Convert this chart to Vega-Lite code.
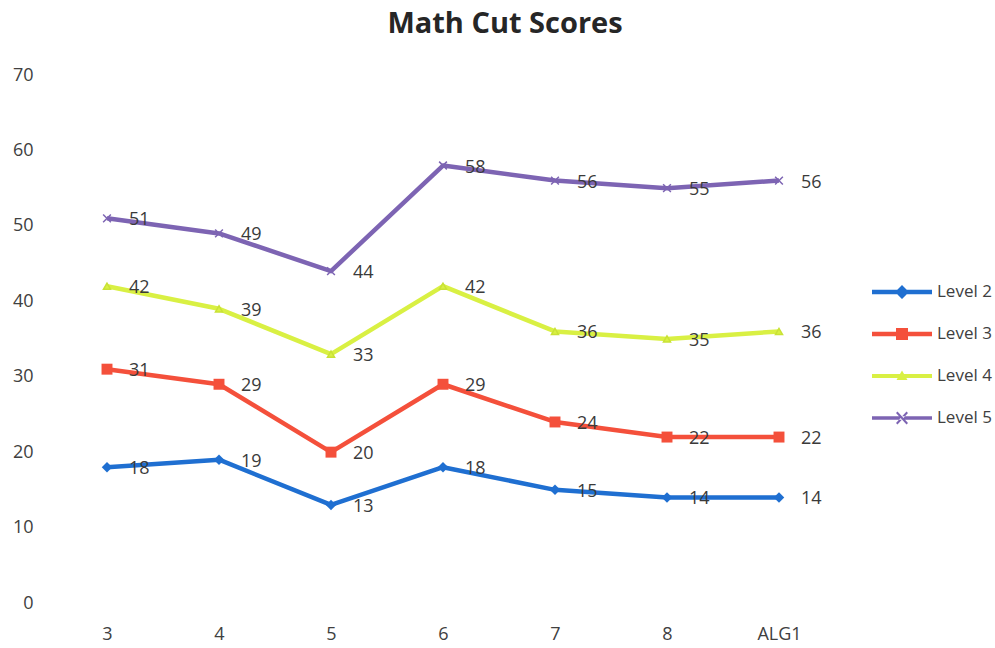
{
  "$schema": "https://vega.github.io/schema/vega-lite/v6.json",
  "width": 784,
  "height": 528,
  "autosize": "none",
  "padding": {"left": 51, "top": 75, "right": 160, "bottom": 45},
  "background": "#ffffff",
  "title": {
    "text": "Math Cut Scores",
    "font": "Open Sans",
    "fontSize": 29,
    "fontWeight": "bold",
    "color": "#262626",
    "anchor": "middle",
    "dx": 62,
    "offset": 27
  },
  "config": {
    "view": {"stroke": null},
    "font": "Open Sans",
    "axis": {
      "labelFont": "Open Sans",
      "labelFontSize": 18,
      "labelColor": "#404040",
      "domain": false,
      "ticks": false,
      "grid": false,
      "title": null
    },
    "legend": {
      "title": null,
      "orient": "none",
      "legendX": 841,
      "legendY": 207,
      "padding": 0,
      "symbolSize": 400,
      "symbolStrokeWidth": 0,
      "symbolOpacity": 1,
      "rowPadding": 24,
      "labelOffset": 25,
      "labelFont": "Open Sans",
      "labelFontSize": 17,
      "labelColor": "#404040"
    }
  },
  "data": {
    "values": [
      {"grade": "3", "series": "Level 2", "score": 18},
      {"grade": "4", "series": "Level 2", "score": 19},
      {"grade": "5", "series": "Level 2", "score": 13},
      {"grade": "6", "series": "Level 2", "score": 18},
      {"grade": "7", "series": "Level 2", "score": 15},
      {"grade": "8", "series": "Level 2", "score": 14},
      {"grade": "ALG1", "series": "Level 2", "score": 14},
      {"grade": "3", "series": "Level 3", "score": 31},
      {"grade": "4", "series": "Level 3", "score": 29},
      {"grade": "5", "series": "Level 3", "score": 20},
      {"grade": "6", "series": "Level 3", "score": 29},
      {"grade": "7", "series": "Level 3", "score": 24},
      {"grade": "8", "series": "Level 3", "score": 22},
      {"grade": "ALG1", "series": "Level 3", "score": 22},
      {"grade": "3", "series": "Level 4", "score": 42},
      {"grade": "4", "series": "Level 4", "score": 39},
      {"grade": "5", "series": "Level 4", "score": 33},
      {"grade": "6", "series": "Level 4", "score": 42},
      {"grade": "7", "series": "Level 4", "score": 36},
      {"grade": "8", "series": "Level 4", "score": 35},
      {"grade": "ALG1", "series": "Level 4", "score": 36},
      {"grade": "3", "series": "Level 5", "score": 51},
      {"grade": "4", "series": "Level 5", "score": 49},
      {"grade": "5", "series": "Level 5", "score": 44},
      {"grade": "6", "series": "Level 5", "score": 58},
      {"grade": "7", "series": "Level 5", "score": 56},
      {"grade": "8", "series": "Level 5", "score": 55},
      {"grade": "ALG1", "series": "Level 5", "score": 56}
    ]
  },
  "encoding": {
    "x": {
      "field": "grade",
      "type": "ordinal",
      "sort": ["3", "4", "5", "6", "7", "8", "ALG1"],
      "scale": {"type": "point", "padding": 0.5},
      "axis": {"labelAngle": 0, "labelPadding": 22}
    },
    "y": {
      "field": "score",
      "type": "quantitative",
      "scale": {"domain": [0, 70], "nice": false},
      "axis": {"values": [0, 10, 20, 30, 40, 50, 60, 70], "labelPadding": 18}
    }
  },
  "layer": [
    {
      "mark": {"type": "point", "filled": true, "opacity": 0},
      "encoding": {
        "shape": {
          "field": "series",
          "type": "nominal",
          "scale": {
            "domain": ["Level 2", "Level 3", "Level 4", "Level 5"],
            "range": [
              "M-3,-0.22H3V0.22H-3Z M0,-0.7L0.7,0L0,0.7L-0.7,0Z",
              "M-3,-0.22H3V0.22H-3Z M-0.6,-0.6H0.6V0.6H-0.6Z",
              "M-3,-0.2H3V0.2H-3Z M0,-0.55L0.55,0.4H-0.55Z",
              "M-3,-0.17H3V0.17H-3Z M-0.6,-0.5L-0.45,-0.65L0.6,0.5L0.45,0.65Z M-0.6,0.5L-0.45,0.65L0.6,-0.5L0.45,-0.65Z"
            ]
          },
          "legend": {}
        },
        "color": {
          "field": "series",
          "type": "nominal",
          "scale": {
            "domain": ["Level 2", "Level 3", "Level 4", "Level 5"],
            "range": ["#1f6fd1", "#f4503b", "#d9f043", "#7d64b3"]
          },
          "legend": {}
        }
      }
    },
    {
      "mark": {"type": "line", "strokeWidth": 4.5, "strokeJoin": "round"},
      "encoding": {
        "color": {"field": "series", "type": "nominal", "legend": {}}
      }
    },
    {
      "transform": [{"filter": {"field": "series", "equal": "Level 2"}}],
      "mark": {"type": "point", "shape": "diamond", "size": 110, "filled": true, "opacity": 1, "color": "#1f6fd1"},
      "encoding": {}
    },
    {
      "transform": [{"filter": {"field": "series", "equal": "Level 3"}}],
      "mark": {"type": "point", "shape": "square", "size": 120, "filled": true, "opacity": 1, "color": "#f4503b"},
      "encoding": {}
    },
    {
      "transform": [{"filter": {"field": "series", "equal": "Level 4"}}],
      "mark": {"type": "point", "shape": "triangle-up", "size": 50, "filled": true, "opacity": 1, "fill": "#d9f043", "stroke": "#c9e236", "strokeWidth": 1.5},
      "encoding": {}
    },
    {
      "transform": [{"filter": {"field": "series", "equal": "Level 5"}}],
      "mark": {"type": "point", "shape": "M-1,-1L1,1M-1,1L1,-1", "size": 60, "filled": false, "opacity": 1, "color": "#7d64b3", "strokeWidth": 1.5},
      "encoding": {}
    },
    {
      "mark": {
        "type": "text",
        "align": "left",
        "baseline": "middle",
        "dx": 22,
        "dy": 2,
        "fontSize": 18,
        "font": "Open Sans",
        "color": "#3a3a3a"
      },
      "encoding": {
        "text": {"field": "score", "type": "quantitative"}
      }
    }
  ]
}
